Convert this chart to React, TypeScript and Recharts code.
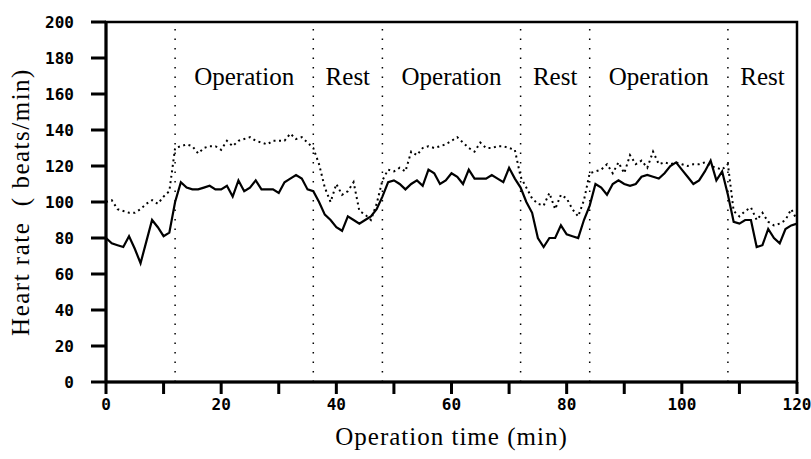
import { LineChart, Line, XAxis, YAxis, ReferenceLine, ReferenceArea, Label } from "recharts";

document.body.style.margin = "0";

// minutes 0..120, one reading per minute
const minutes = [
  0, 1, 2, 3, 4, 5, 6, 7, 8, 9, 10, 11, 12, 13, 14, 15, 16, 17, 18, 19, 20,
  21, 22, 23, 24, 25, 26, 27, 28, 29, 30, 31, 32, 33, 34, 35, 36, 37, 38, 39, 40,
  41, 42, 43, 44, 45, 46, 47, 48, 49, 50, 51, 52, 53, 54, 55, 56, 57, 58, 59, 60,
  61, 62, 63, 64, 65, 66, 67, 68, 69, 70, 71, 72, 73, 74, 75, 76, 77, 78, 79, 80,
  81, 82, 83, 84, 85, 86, 87, 88, 89, 90, 91, 92, 93, 94, 95, 96, 97, 98, 99, 100,
  101, 102, 103, 104, 105, 106, 107, 108, 109, 110, 111, 112, 113, 114, 115, 116, 117, 118, 119, 120,
];

const hrSolid = [
  80, 77, 76, 75, 81, 74, 66, 78, 90, 86, 81, 83, 100, 111, 108, 107, 107, 108, 109, 107, 107,
  109, 103, 112, 106, 108, 112, 107, 107, 107, 105, 111, 113, 115, 113, 107, 106, 100, 93, 90, 86,
  84, 92, 90, 88, 90, 92, 96, 103, 111, 112, 110, 107, 110, 112, 109, 118, 116, 110, 112, 116,
  114, 110, 118, 113, 113, 113, 115, 113, 111, 119, 113, 108, 100, 94, 80, 75, 80, 80, 87, 82,
  81, 80, 90, 98, 110, 108, 104, 110, 112, 110, 109, 110, 114, 115, 114, 113, 116, 120, 122, 118,
  114, 110, 112, 117, 123, 112, 117, 104, 89, 88, 90, 90, 75, 76, 85, 80, 77, 85, 87, 88,
];

const hrDotted = [
  100, 101, 96, 95, 94, 94, 96, 99, 101, 99, 103, 106, 130, 131, 132, 131, 127, 130, 131, 131, 129,
  134, 131, 134, 135, 136, 134, 133, 132, 134, 134, 134, 138, 135, 136, 133, 130, 121, 108, 100, 110,
  104, 106, 111, 95, 93, 90, 99, 112, 118, 117, 119, 117, 128, 126, 130, 131, 130, 131, 132, 134,
  136, 133, 130, 128, 133, 130, 130, 131, 131, 130, 129, 114, 108, 102, 99, 98, 105, 96, 104, 102,
  96, 92, 101, 116, 117, 118, 121, 116, 122, 116, 126, 121, 123, 119, 128, 121, 122, 121, 122, 121,
  120, 121, 121, 122, 120, 119, 118, 121, 95, 92, 95, 97, 90, 94, 89, 87, 88, 90, 96, 90,
];

const phaseStarts = [12, 36, 48, 72, 84, 108];
const phaseEnds = [36, 48, 72, 84, 108, 120];
const phaseNames = ["Operation", "Rest", "Operation", "Rest", "Operation", "Rest"];

const xTicks = [0, 10, 20, 30, 40, 50, 60, 70, 80, 90, 100, 110, 120];
const yTicks = [0, 20, 40, 60, 80, 100, 120, 140, 160, 180, 200];

const data = minutes.map((t, i) => ({ t, solid: hrSolid[i], dotted: hrDotted[i] }));

const serif = "'Liberation Serif', 'Times New Roman', serif";
const mono = "'DejaVu Sans Mono', monospace";

// tick mark + label drawn together
function XTick(props: any) {
  const { x, y, payload } = props;
  const v = payload.value as number;
  return (
    <g>
      <rect x={x - 1.5} y={y} width={3} height={12} fill="#000" />
      {v % 20 === 0 && (
        <text x={x} y={y + 28} textAnchor="middle" fill="#000" fontFamily={mono} fontSize={16} fontWeight="bold">
          {v}
        </text>
      )}
    </g>
  );
}

function YTick(props: any) {
  const { x, y, payload } = props;
  return (
    <g>
      <rect x={x - 15} y={y - 1.5} width={15} height={3} fill="#000" />
      <text x={x - 32} y={y + 6} textAnchor="end" fill="#000" fontFamily={mono} fontSize={16} fontWeight="bold">
        {payload.value}
      </text>
    </g>
  );
}

export default function App() {
  return (
    <LineChart
      width={811}
      height={459}
      data={data}
      margin={{ top: 22, right: 14, left: 0, bottom: 0 }}
    >
      <XAxis
        dataKey="t"
        type="number"
        domain={[0, 120]}
        ticks={xTicks}
        tick={<XTick />}
        tickSize={0}
        tickMargin={0}
        axisLine={{ stroke: "#000", strokeWidth: 3 }}
        height={77}
      >
        <Label
          value="Operation time (min)"
          position="insideBottom"
          offset={14}
          style={{ fill: "#000", fontFamily: serif, fontSize: 25, letterSpacing: 1 }}
        />
      </XAxis>
      <YAxis
        domain={[0, 200]}
        ticks={yTicks}
        tick={<YTick />}
        tickSize={0}
        tickMargin={0}
        axisLine={{ stroke: "#000", strokeWidth: 3 }}
        width={106}
      >
        <Label
          value={"Heart rate\u00a0\u00a0(\u00a0beats/min)"}
          angle={-90}
          position="insideLeft"
          offset={20}
          style={{ fill: "#000", fontFamily: serif, fontSize: 25, letterSpacing: 1.5, textAnchor: "middle" }}
        />
      </YAxis>
      {/* frame around the plot */}
      <ReferenceArea x1={0} x2={120} y1={0} y2={200} fill="none" stroke="#000" strokeWidth={2.5} />
      {phaseStarts.map((s, i) => (
        <ReferenceArea
          key={"a" + i}
          x1={s}
          x2={phaseEnds[i]}
          y1={0}
          y2={200}
          fill="transparent"
          stroke="none"
          label={{
            value: phaseNames[i],
            position: "insideTop",
            offset: 45,
            fill: "#000",
            fontFamily: serif,
            fontSize: 25,
          }}
        />
      ))}
      {phaseStarts.map((s) => (
        <ReferenceLine key={"l" + s} x={s} stroke="#000" strokeWidth={1.5} strokeDasharray="1.5 8" />
      ))}
      <Line
        type="linear"
        dataKey="dotted"
        stroke="#000"
        strokeWidth={2}
        strokeDasharray="2 3.5"
        dot={false}
        isAnimationActive={false}
      />
      <Line
        type="linear"
        dataKey="solid"
        stroke="#000"
        strokeWidth={2.2}
        dot={false}
        isAnimationActive={false}
      />
    </LineChart>
  );
}
